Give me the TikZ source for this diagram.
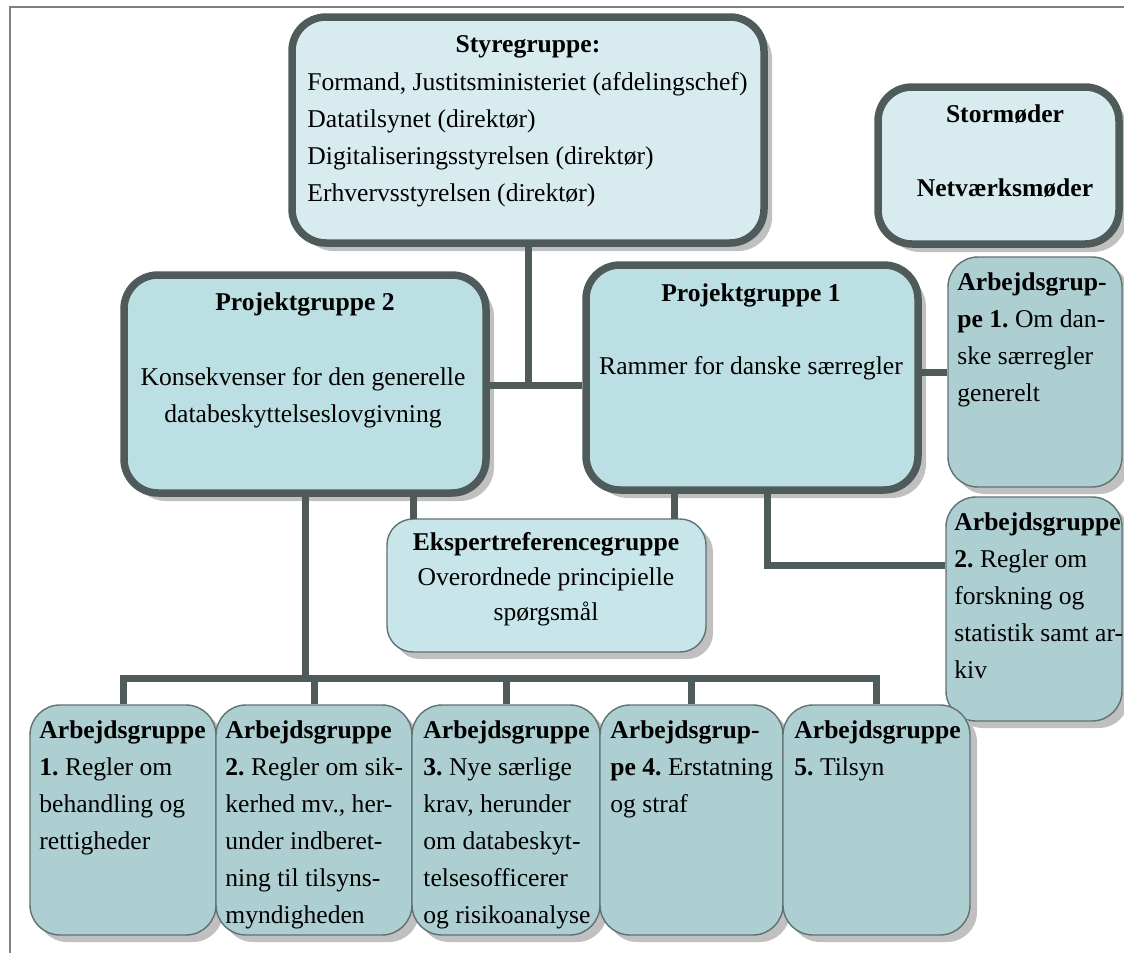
\documentclass[tikz,border=0pt]{standalone}
\usepackage{fontspec}
\setmainfont{Liberation Serif}
\usetikzlibrary{fit,shadows}
\frenchspacing

\definecolor{edgegray}{HTML}{4F5B5B}
\definecolor{thingray}{HTML}{607171}
\definecolor{shadowgray}{HTML}{C0C0C0}
\definecolor{framegray}{HTML}{808080}
\definecolor{lightfill}{HTML}{D8ECEF}
\definecolor{pgfill}{HTML}{BCDFE3}
\definecolor{ekspfill}{HTML}{C8E6E9}
\definecolor{agfill}{HTML}{AECFD2}

\begin{document}
\begin{tikzpicture}[x=0.5pt,y=-0.5pt]
\tikzstyle{every node}+=[inner sep=0pt, font=\fontsize{12.8}{18.5}\selectfont]
\tikzstyle{thickbox}=[draw=edgegray, line width=3.75pt, rounded corners=17pt, drop shadow={shadow xshift=4pt, shadow yshift=-4pt, fill=shadowgray, opacity=1}]
\tikzstyle{thinbox}=[draw=thingray, line width=0.7pt, rounded corners=15pt, drop shadow={shadow xshift=3.5pt, shadow yshift=-3.5pt, fill=shadowgray, opacity=1}]
\tikzstyle{conn}=[draw=edgegray, line width=3.5pt]
\tikzstyle{hd}=[font=\fontsize{12.8}{18.5}\selectfont\bfseries]
\useasboundingbox (0,0) rectangle (1124,953);
\draw [framegray, line width=0.6pt] (10,953) -- (10,7) -- (1124,7);
% boxes
\node [thickbox, fill=lightfill, fit={(292,17) (764,243)}] (styre) {};
\node [thickbox, fill=lightfill, fit={(878,87) (1119,244)}] (stor) {};
\node [thickbox, fill=pgfill, fit={(124,275) (486,493)}] (pg2) {};
\node [thickbox, fill=pgfill, fit={(586,265) (918,490)}] (pg1) {};
\node [thinbox, fill=agfill, fit={(948,257) (1122,487)}] (agr1) {};
\node [thinbox, fill=agfill, fit={(946,497) (1122,721)}] (agr2) {};
\node [thinbox, fill=ekspfill, rounded corners=13pt, fit={(387,519) (706,652)}] (eksp) {};
\node [thinbox, fill=agfill, fit={(30,705) (216,935)}] (ag1) {};
\node [thinbox, fill=agfill, fit={(216,705) (412,935)}] (ag2) {};
\node [thinbox, fill=agfill, fit={(412,705) (600,935)}] (ag3) {};
\node [thinbox, fill=agfill, fit={(600,705) (783,935)}] (ag4) {};
\node [thinbox, fill=agfill, fit={(783,705) (970,935)}] (ag5) {};
% texts
\node [hd] (styrehd) at (528,47) {Styregruppe:};
\node [align=left, anchor=north west] (styretx) at (307,72) {Formand, Justitsministeriet (afdelingschef)\\Datatilsynet (direktør)\\Digitaliseringsstyrelsen (direktør)\\Erhvervsstyrelsen (direktør)};
\node [hd] (storhd) at (1005,114) {Stormøder};
\node [hd] (netvhd) at (1005,188) {Netværksmøder};
\node [hd] (pg2hd) at (305,304) {Projektgruppe 2};
\node [align=center, anchor=north] (pg2tx) at (303,367) {Konsekvenser for den generelle\\databeskyttelseslovgivning};
\node [hd] (pg1hd) at (751,295) {Projektgruppe 1};
\node (pg1tx) at (751,368) {Rammer for danske særregler};
\node [align=left, anchor=north west] (agr1tx) at (957,272) {\textbf{Arbejdsgrup-}\\\textbf{pe 1.} Om dan-\\ske særregler\\generelt};
\node [align=left, anchor=north west] (agr2tx) at (954,512) {\textbf{Arbejdsgruppe}\\\textbf{2.} Regler om\\forskning og\\statistik samt ar-\\kiv};
\node [align=center, anchor=north, font=\fontsize{12.8}{17.5}\selectfont] (eksptx) at (546,532) {\textbf{Ekspertreferencegruppe}\\Overordnede principielle\\spørgsmål};
\node [align=left, anchor=north west] (ag1tx) at (39,720) {\textbf{Arbejdsgruppe}\\\textbf{1.} Regler om\\behandling og\\rettigheder};
\node [align=left, anchor=north west] (ag2tx) at (225,720) {\textbf{Arbejdsgruppe}\\\textbf{2.} Regler om sik-\\kerhed mv., her-\\under indberet-\\ning til tilsyns-\\myndigheden};
\node [align=left, anchor=north west] (ag3tx) at (423,720) {\textbf{Arbejdsgruppe}\\\textbf{3.} Nye særlige\\krav, herunder\\om databeskyt-\\telsesofficerer\\og risikoanalyse};
\node [align=left, anchor=north west] (ag4tx) at (610,720) {\textbf{Arbejdsgrup-}\\\textbf{pe 4.} Erstatning\\og straf};
\node [align=left, anchor=north west] (ag5tx) at (794,720) {\textbf{Arbejdsgruppe}\\\textbf{5.} Tilsyn};
% connectors
\coordinate (hub) at (528,385);
\coordinate (knee) at (767,565);
\coordinate (ek2) at (413,519);
\coordinate (ek1) at (674,519);
\coordinate (bus) at (305,678);
\draw [conn] (styre.south) -- (hub);
\draw [conn] (pg2.east |- hub) -- (pg1.west |- hub);
\draw [conn] (pg1.east |- agr1.west) -- (agr1.west);
\draw [conn] (pg1.south -| knee) -- (knee) -- (agr2.west |- knee);
\draw [conn] (pg2.south -| ek2) -- (ek2);
\draw [conn] (pg1.south -| ek1) -- (ek1);
\draw [conn] (pg2.south) -- (bus);
\draw [conn] (ag1.north) |- (bus) -| (ag5.north);
\foreach \n in {2,3,4}
  \draw [conn] (ag\n.north |- bus) -- (ag\n.north);
\end{tikzpicture}
\end{document}
